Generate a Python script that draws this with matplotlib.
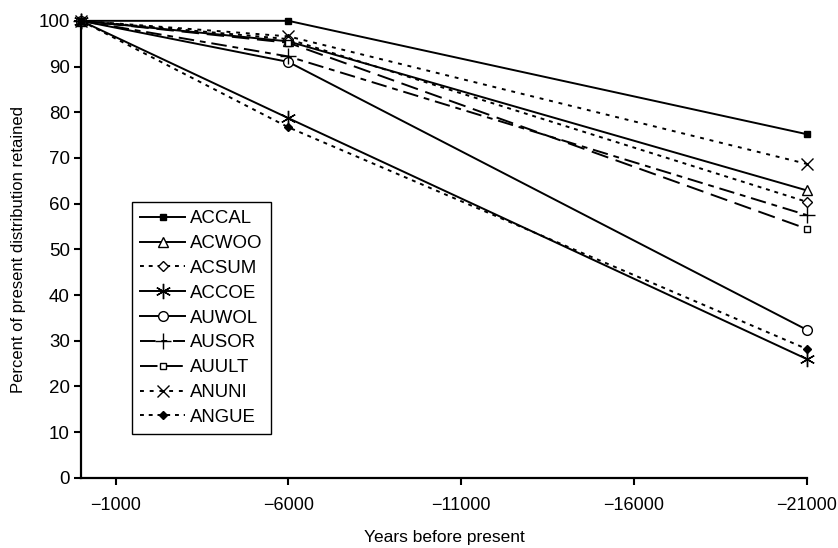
import matplotlib.pyplot as plt

plt.rcParams['font.family'] = ['Liberation Sans', 'DejaVu Sans']

years = [0, -6000, -21000]

accal = [100, 100, 75.2]
acwoo = [100, 95.5, 62.9]
acsum = [100, 96.0, 60.4]
accoe = [100, 78.7, 26.0]
auwol = [100, 91.0, 32.4]
ausor = [100, 92.2, 57.5]
auult = [100, 95.2, 54.5]
anuni = [100, 96.6, 68.7]
angue = [100, 76.7, 28.2]

fig = plt.figure(figsize=(8.38, 5.48), dpi=100)
ax = fig.add_axes([0.0967, 0.128, 0.866, 0.834])

k = dict(color="black", lw=1.4, clip_on=False)
ax.plot(years, accal, marker="s", ms=5, mfc="black", label="ACCAL", **k)
ax.plot(years, acwoo, marker="^", ms=7, mfc="white", label="ACWOO", **k)
ax.plot(years, acsum, marker="D", ms=5.5, mfc="white", dashes=(2, 2.5), label="ACSUM", **k)
ax.plot(years, accoe, marker=(6, 2, 0), ms=11, mew=1, label="ACCOE", **k)
ax.plot(years, auwol, marker="o", ms=7, mfc="white", label="AUWOL", **k)
ax.plot(years, ausor, marker="+", ms=12, mew=1, dashes=(8, 3, 3, 3), label="AUSOR", **k)
ax.plot(years, auult, marker="s", ms=5, mfc="white", dashes=(9, 4), label="AUULT", **k)
ax.plot(years, anuni, marker="x", ms=9, mew=1, dashes=(2, 3), label="ANUNI", **k)
ax.plot(years, angue, marker="D", ms=4, mfc="black", dashes=(2, 2.5), label="ANGUE", **k)

ax.set_xlim(0, -21000)
ax.set_ylim(0, 100)
ax.set_xticks([-1000, -6000, -11000, -16000, -21000])
ax.set_yticks(range(0, 101, 10))
ax.tick_params(width=1.5, length=5, direction="out")
ax.tick_params(axis="x", labelsize=13, pad=9)
ax.tick_params(axis="y", labelsize=13.5, pad=3)
for s in ["top", "right"]:
    ax.spines[s].set_visible(False)
for s in ["left", "bottom"]:
    ax.spines[s].set_linewidth(1.6)

ax.set_xlabel("Years before present", fontsize=12.5, labelpad=11)
ax.set_ylabel("Percent of present distribution retained", fontsize=12, labelpad=9)

leg = ax.legend(loc="upper left", bbox_to_anchor=(0.070, 0.604), borderaxespad=0,
                fontsize=13.4, frameon=True, fancybox=False, edgecolor="black",
                framealpha=1, handlelength=2.4, labelspacing=0.42, borderpad=0.45,
                handletextpad=0.3)
leg.get_frame().set_linewidth(1.0)

fig.savefig("out.png", dpi=100)
